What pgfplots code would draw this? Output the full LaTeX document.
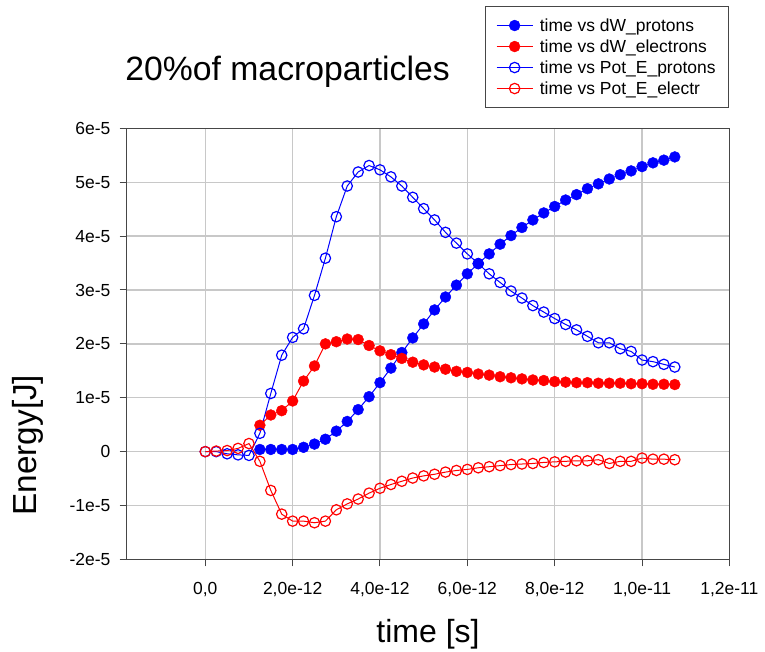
\documentclass[border=0pt]{standalone}
\usepackage{fontspec}
\setmainfont{Liberation Sans}
\usepackage{pgfplots}
\usepackage{pgfplotstable}
\pgfplotsset{compat=1.18}

\definecolor{cblue}{RGB}{0,0,255}
\definecolor{cred}{RGB}{255,0,0}
\definecolor{axgray}{RGB}{70,70,70}
\definecolor{gridgray}{RGB}{200,200,200}

% x in units of 1e-12 s, y in units of 1e-5 J
\pgfplotstableread{
x y
1.25 0.04
1.5 0.04
1.75 0.04
2.0 0.04
2.25 0.08
2.5 0.14
2.75 0.23
3.0 0.38
3.25 0.56
3.5 0.78
3.75 1.02
4.0 1.28
4.25 1.55
4.5 1.84
4.75 2.11
5.0 2.37
5.25 2.63
5.5 2.87
5.75 3.09
6.0 3.30
6.25 3.49
6.5 3.67
6.75 3.85
7.0 4.01
7.25 4.16
7.5 4.30
7.75 4.43
8.0 4.55
8.25 4.67
8.5 4.77
8.75 4.88
9.0 4.97
9.25 5.06
9.5 5.14
9.75 5.21
10.0 5.29
10.25 5.36
10.5 5.41
10.75 5.47
}\dWprotons

\pgfplotstableread{
x y
1.25 0.49
1.5 0.68
1.75 0.76
2.0 0.94
2.25 1.31
2.5 1.59
2.75 2.00
3.0 2.04
3.25 2.09
3.5 2.08
3.75 1.97
4.0 1.87
4.25 1.80
4.5 1.73
4.75 1.66
5.0 1.61
5.25 1.57
5.5 1.53
5.75 1.49
6.0 1.47
6.25 1.44
6.5 1.42
6.75 1.39
7.0 1.37
7.25 1.35
7.5 1.33
7.75 1.32
8.0 1.30
8.25 1.29
8.5 1.28
8.75 1.28
9.0 1.27
9.25 1.27
9.5 1.27
9.75 1.26
10.0 1.26
10.25 1.25
10.5 1.25
10.75 1.245
}\dWelectrons

\pgfplotstableread{
x y
0.0 0.0
0.25 0.0
0.5 -0.04
0.75 -0.06
1.0 -0.07
1.25 0.34
1.5 1.08
1.75 1.79
2.0 2.12
2.25 2.28
2.5 2.90
2.75 3.59
3.0 4.36
3.25 4.93
3.5 5.19
3.75 5.31
4.0 5.23
4.25 5.10
4.5 4.93
4.75 4.72
5.0 4.51
5.25 4.30
5.5 4.07
5.75 3.87
6.0 3.67
6.25 3.49
6.5 3.30
6.75 3.14
7.0 2.98
7.25 2.85
7.5 2.71
7.75 2.59
8.0 2.47
8.25 2.36
8.5 2.26
8.75 2.14
9.0 2.02
9.25 2.02
9.5 1.91
9.75 1.86
10.0 1.70
10.25 1.67
10.5 1.62
10.75 1.57
}\PotEprotons

\pgfplotstableread{
x y
0.0 0.0
0.25 0.01
0.5 0.02
0.75 0.06
1.0 0.15
1.25 -0.18
1.5 -0.72
1.75 -1.16
2.0 -1.29
2.25 -1.29
2.5 -1.32
2.75 -1.29
3.0 -1.08
3.25 -0.97
3.5 -0.88
3.75 -0.77
4.0 -0.68
4.25 -0.61
4.5 -0.55
4.75 -0.49
5.0 -0.45
5.25 -0.42
5.5 -0.38
5.75 -0.35
6.0 -0.33
6.25 -0.30
6.5 -0.28
6.75 -0.26
7.0 -0.24
7.25 -0.23
7.5 -0.22
7.75 -0.20
8.0 -0.19
8.25 -0.18
8.5 -0.17
8.75 -0.17
9.0 -0.15
9.25 -0.22
9.5 -0.18
9.75 -0.18
10.0 -0.12
10.25 -0.14
10.5 -0.14
10.75 -0.15
}\PotEelectr

\begin{document}
\begin{tikzpicture}
\begin{axis}[
  at={(0,0)}, anchor=south west,
  scale only axis,
  width=452pt, height=323.25pt,
  xmin=-1.8, xmax=12,
  ymin=-2, ymax=6,
  xtick={0,2,4,6,8,10,12},
  xticklabels={{0,0},{2,0e-12},{4,0e-12},{6,0e-12},{8,0e-12},{1,0e-11},{1,2e-11}},
  ytick={-2,-1,0,1,2,3,4,5,6},
  yticklabels={-2e-5,-1e-5,0,1e-5,2e-5,3e-5,4e-5,5e-5,6e-5},
  /pgf/number format/assume math mode=true,
  tick label style={font=\fontsize{13.1}{15}\selectfont},
  xticklabel style={anchor=north, inner sep=0pt, yshift=-11.5pt},
  yticklabel style={anchor=east, inner sep=0pt, xshift=-6.75pt},
  tick align=outside,
  major tick length=5.25pt,
  xtick pos=bottom, ytick pos=left,
  tick style={axgray, line width=0.75pt},
  axis line style={axgray, line width=0.8pt},
  grid=major,
  major grid style={solid, draw=gridgray, line width=1pt},
  title={20\%of macroparticles},
  title style={at={(axis description cs:0.267,1.0936)}, anchor=base, font=\fontsize{25.3}{30}\selectfont, inner sep=0pt},
  xlabel={time [s]},
  xlabel style={at={(axis description cs:0.5,-0.192)}, anchor=base, font=\fontsize{24}{28}\selectfont, inner sep=0pt},
  ylabel={Energy[J]},
  ylabel style={at={(axis description cs:-0.164,0.265)}, anchor=center, rotate=0, font=\fontsize{25}{30}\selectfont, inner sep=0pt},
  legend style={at={(axis description cs:1,1.2838)}, anchor=north east,
    draw=axgray, line width=0.75pt, fill=white,
    font=\fontsize{13.1}{15.75}\selectfont,
    inner xsep=8pt, inner ysep=6.375pt, row sep=0pt,
    nodes={text height=11pt, text depth=2pt, inner xsep=2pt, inner ysep=1.375pt}},
  legend cell align=left,
  legend image code/.code={\draw[mark repeat=2,mark phase=2,#1] plot coordinates {(0pt,0pt) (13.5pt,0pt) (27pt,0pt)}; \path (30pt,0pt);},
]
\addplot[cblue, line width=0.75pt, mark=*, mark size=4.1pt, mark options={solid, fill=cblue, draw=cblue, line width=0.3pt}] table[x=x,y=y] {\dWprotons};
\addlegendentry{time vs dW\_protons}
\addplot[cred, line width=0.75pt, mark=*, mark size=4.1pt, mark options={solid, fill=cred, draw=cred, line width=0.3pt}] table[x=x,y=y] {\dWelectrons};
\addlegendentry{time vs dW\_electrons}
\addplot[cblue, line width=0.75pt, mark=o, mark size=3.9pt, mark options={solid, fill=white, draw=cblue, line width=0.9pt}] table[x=x,y=y] {\PotEprotons};
\addlegendentry{time vs Pot\_E\_protons}
\addplot[cred, line width=0.75pt, mark=o, mark size=3.9pt, mark options={solid, fill=white, draw=cred, line width=0.9pt}] table[x=x,y=y] {\PotEelectr};
\addlegendentry{time vs Pot\_E\_electr}
\end{axis}
\pgfresetboundingbox
\path[use as bounding box] (-95.0pt,-68.8pt) rectangle (478.7pt,419.5pt);
\end{tikzpicture}
\end{document}
